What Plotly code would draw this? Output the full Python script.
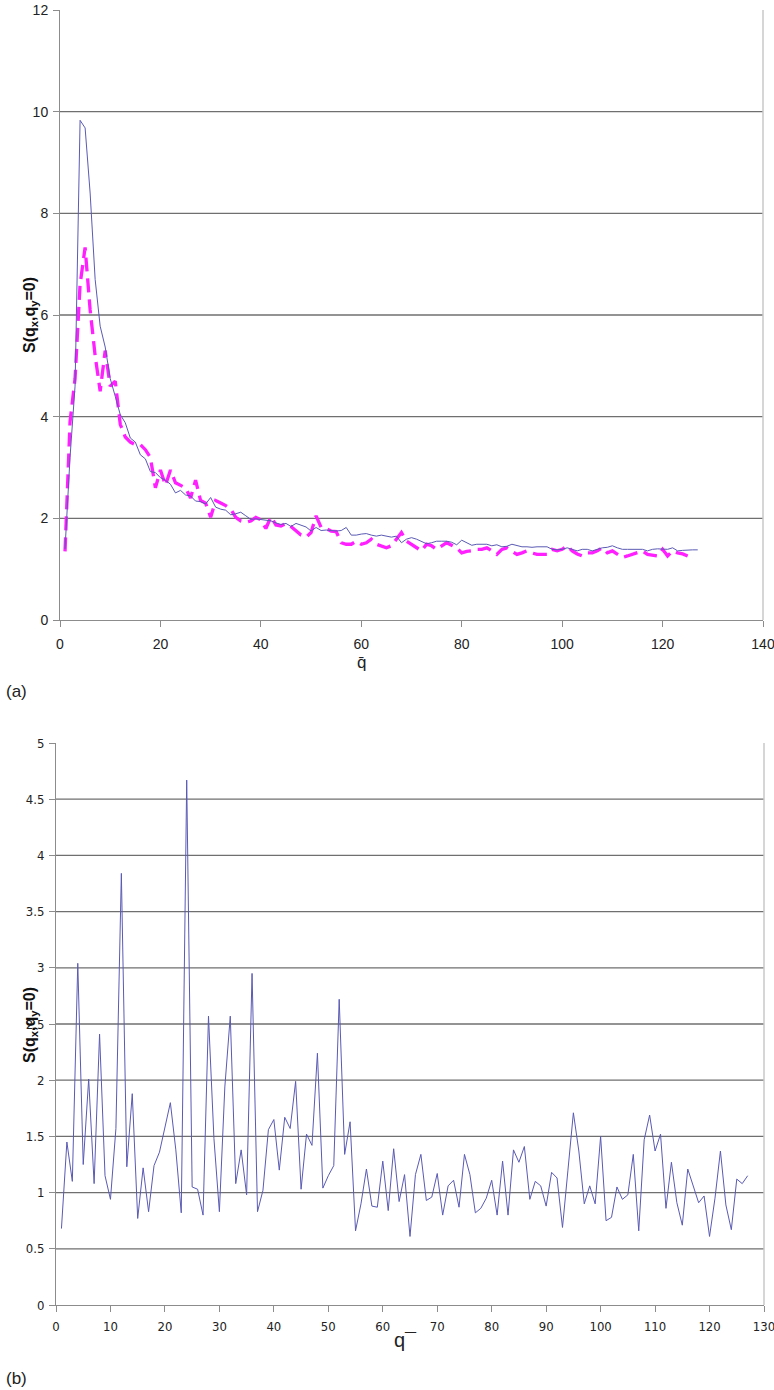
import plotly.graph_objects as go

# ---------------- data ----------------
q_top_solid = list(range(1, 128))
s_top_solid = [
    1.40, 3.2, 4.6, 9.83, 9.68, 8.4, 6.7, 5.78, 5.37, 4.75, 4.4, 4.04, 3.88, 3.58, 3.5, 3.25, 3.17, 2.92, 2.9, 2.8,
    2.75, 2.67, 2.5, 2.55, 2.46, 2.44, 2.34, 2.33, 2.28, 2.41, 2.22, 2.18, 2.16, 2.07, 2.09, 2.12, 2.05, 1.98, 1.99, 1.98,
    1.96, 1.95, 1.91, 1.88, 1.9, 1.84, 1.9, 1.87, 1.83, 1.75, 1.82, 1.76, 1.77, 1.76, 1.75, 1.76, 1.82, 1.67, 1.67, 1.69,
    1.70, 1.67, 1.65, 1.67, 1.65, 1.63, 1.65, 1.52, 1.59, 1.62, 1.59, 1.54, 1.50, 1.52, 1.55, 1.55, 1.55, 1.53, 1.48, 1.57,
    1.52, 1.47, 1.49, 1.49, 1.49, 1.46, 1.48, 1.44, 1.45, 1.49, 1.47, 1.44, 1.44, 1.43, 1.44, 1.44, 1.44, 1.39, 1.38, 1.39,
    1.42, 1.39, 1.36, 1.39, 1.39, 1.36, 1.39, 1.42, 1.43, 1.46, 1.42, 1.39, 1.39, 1.39, 1.39, 1.39, 1.36, 1.39, 1.40, 1.39,
    1.39, 1.42, 1.36, 1.37, 1.38, 1.38, 1.38,
]

q_top_dash = list(range(1, 126))
s_top_dash = [
    1.35, 3.9, 4.75, 6.6, 7.33, 6.1, 5.2, 4.5, 5.3, 4.6, 4.7, 3.85, 3.6, 3.5, 3.45, 3.45, 3.35, 3.2, 2.6, 2.95,
    2.65, 2.95, 2.7, 2.65, 2.6, 2.4, 2.75, 2.35, 2.3, 2.02, 2.35, 2.3, 2.25, 2.18, 2.02, 1.95, 1.92, 1.95, 2.02, 1.97,
    1.8, 2.03, 1.87, 1.85, 1.9, 1.84, 1.75, 1.67, 1.63, 1.72, 2.05, 1.82, 1.8, 1.75, 1.74, 1.52, 1.49, 1.49, 1.55, 1.49,
    1.52, 1.59, 1.49, 1.45, 1.42, 1.46, 1.59, 1.72, 1.55, 1.49, 1.42, 1.36, 1.49, 1.46, 1.39, 1.45, 1.52, 1.47, 1.42, 1.32,
    1.35, 1.36, 1.39, 1.39, 1.42, 1.36, 1.29, 1.39, 1.42, 1.35, 1.29, 1.32, 1.36, 1.32, 1.29, 1.29, 1.29, 1.39, 1.36, 1.39,
    1.46, 1.36, 1.30, 1.26, 1.32, 1.32, 1.36, 1.42, 1.32, 1.36, 1.29, 1.23, 1.26, 1.29, 1.32, 1.36, 1.29, 1.27, 1.26, 1.39,
    1.26, 1.36, 1.32, 1.30, 1.26,
]

q_bottom = list(range(1, 128))
s_bottom = [
    0.68, 1.45, 1.10, 3.04, 1.25, 2.01, 1.08, 2.41, 1.15, 0.94, 1.57, 3.84, 1.23, 1.88, 0.77, 1.22, 0.83, 1.24, 1.36, 1.59,
    1.80, 1.38, 0.82, 4.67, 1.05, 1.03, 0.80, 2.57, 1.48, 0.83, 1.94, 2.57, 1.08, 1.38, 0.98, 2.95, 0.83, 1.02, 1.56, 1.65,
    1.20, 1.67, 1.57, 1.99, 1.03, 1.52, 1.42, 2.24, 1.04, 1.15, 1.24, 2.72, 1.34, 1.63, 0.66, 0.90, 1.21, 0.88, 0.87, 1.28,
    0.84, 1.39, 0.92, 1.16, 0.61, 1.16, 1.34, 0.93, 0.96, 1.17, 0.80, 1.06, 1.11, 0.87, 1.34, 1.16, 0.82, 0.86, 0.95, 1.11,
    0.80, 1.28, 0.80, 1.38, 1.27, 1.41, 0.94, 1.10, 1.06, 0.88, 1.18, 1.13, 0.69, 1.20, 1.71, 1.37, 0.90, 1.06, 0.90, 1.50,
    0.75, 0.78, 1.05, 0.94, 0.98, 1.34, 0.66, 1.47, 1.69, 1.37, 1.52, 0.86, 1.27, 0.91, 0.71, 1.21, 1.07, 0.91, 0.97, 0.61,
    0.95, 1.37, 0.89, 0.67, 1.12, 1.08, 1.15,
]

top_xticks = [0, 20, 40, 60, 80, 100, 120, 140]
top_yticks = [0, 2, 4, 6, 8, 10, 12]
top_grid = [2, 4, 6, 8, 10]
bot_xticks = [0, 10, 20, 30, 40, 50, 60, 70, 80, 90, 100, 110, 120, 130]
bot_yticks = [0, 0.5, 1, 1.5, 2, 2.5, 3, 3.5, 4, 4.5, 5]
bot_grid = [0.5, 1, 1.5, 2, 2.5, 3, 3.5, 4, 4.5]

# ---------------- figure ----------------
W, H = 774, 1390
FONT = "Liberation Sans, Arial, sans-serif"
NARROW = "Liberation Sans Narrow, DejaVu Sans Condensed, Liberation Sans, sans-serif"
SOLID = "#5a5ab4"
MAGENTA = "#ff1fff"
GRID = "#6f6f6f"
AXIS = "#8c8c8c"

fig = go.Figure()
fig.add_trace(go.Scatter(x=q_top_dash, y=s_top_dash, mode="lines",
                         line=dict(color=MAGENTA, width=3.3, dash="14px,7px"),
                         xaxis="x", yaxis="y", showlegend=False))
fig.add_trace(go.Scatter(x=q_top_solid, y=s_top_solid, mode="lines",
                         line=dict(color=SOLID, width=1),
                         xaxis="x", yaxis="y", showlegend=False))
fig.add_trace(go.Scatter(x=q_bottom, y=s_bottom, mode="lines",
                         line=dict(color=SOLID, width=1),
                         xaxis="x2", yaxis="y2", showlegend=False))

def px_x(p):
    return p / W

def px_y(p):
    return 1 - p / H

axis_common = dict(showgrid=False, zeroline=False, showline=True, linecolor=AXIS, linewidth=1,
                   ticks="outside", ticklen=6, tickcolor=AXIS, tickwidth=1,
                   automargin=False, ticklabeloverflow="allow", fixedrange=True)

fig.update_layout(
    width=W, height=H,
    margin=dict(l=0, r=0, t=0, b=0, autoexpand=False),
    paper_bgcolor="white", plot_bgcolor="white",
    font=dict(family=FONT, color="#222222"),
    xaxis=dict(domain=[px_x(60), px_x(763)], range=[0, 140], tickvals=top_xticks,
               anchor="y", tickfont=dict(size=14), ticklabelstandoff=5, **axis_common),
    yaxis=dict(domain=[px_y(620), px_y(10)], range=[0, 12], tickvals=top_yticks,
               anchor="x", tickfont=dict(size=14), ticklabelstandoff=2, **axis_common),
    xaxis2=dict(domain=[px_x(56), px_x(764)], range=[0, 130], tickvals=bot_xticks,
                anchor="y2", tickfont=dict(size=13, family=NARROW), ticklabelstandoff=3, **axis_common),
    yaxis2=dict(domain=[px_y(1305), px_y(743)], range=[0, 5], tickvals=bot_yticks,
                anchor="x2", tickfont=dict(size=13, family=NARROW), ticklabelstandoff=2, **axis_common),
)

shapes = []
for g in top_grid:
    shapes.append(dict(type="line", xref="x domain", yref="y", x0=0, x1=1, y0=g, y1=g,
                       line=dict(color=GRID, width=1.3), layer="below"))
for g in bot_grid:
    shapes.append(dict(type="line", xref="x2 domain", yref="y2", x0=0, x1=1, y0=g, y1=g,
                       line=dict(color=GRID, width=1.3), layer="below"))
# right plot-area borders
shapes.append(dict(type="line", xref="x domain", yref="y domain", x0=1, x1=1, y0=0, y1=1,
                   line=dict(color="#c8c8c8", width=1.5), layer="below"))
shapes.append(dict(type="line", xref="x2 domain", yref="y2 domain", x0=1, x1=1, y0=0, y1=1,
                   line=dict(color="#c8c8c8", width=1.5), layer="below"))
fig.update_layout(shapes=shapes)

def note(text, xp, yp, size, color="#222222", angle=0, xanchor="center"):
    return dict(text=text, x=px_x(xp), y=px_y(yp), xref="paper", yref="paper",
                xanchor=xanchor, yanchor="middle", textangle=angle, showarrow=False,
                font=dict(size=size, color=color))

ann = [
    note("<b>S(q<sub>x</sub>,q<sub>y</sub>=0)</b>", 30, 315, 16, "#111111", -90),
    note("<b>S(q<sub>x</sub>,q<sub>y</sub>=0)</b>", 30, 1025, 16, "#111111", -90),
    note("q\u0304", 361, 662, 17),
    note("q\u00af", 405, 1340, 20),
    note("(a)", 4, 692, 17, xanchor="left"),
    note("(b)", 4, 1378, 17, xanchor="left"),
]
fig.update_layout(annotations=ann)

fig.write_html(
    "out.html",
    config={"displayModeBar": False, "staticPlot": True},
    post_script="document.documentElement.style.margin='0';document.body.style.margin='0';"
                "document.body.style.overflow='hidden';",
)
